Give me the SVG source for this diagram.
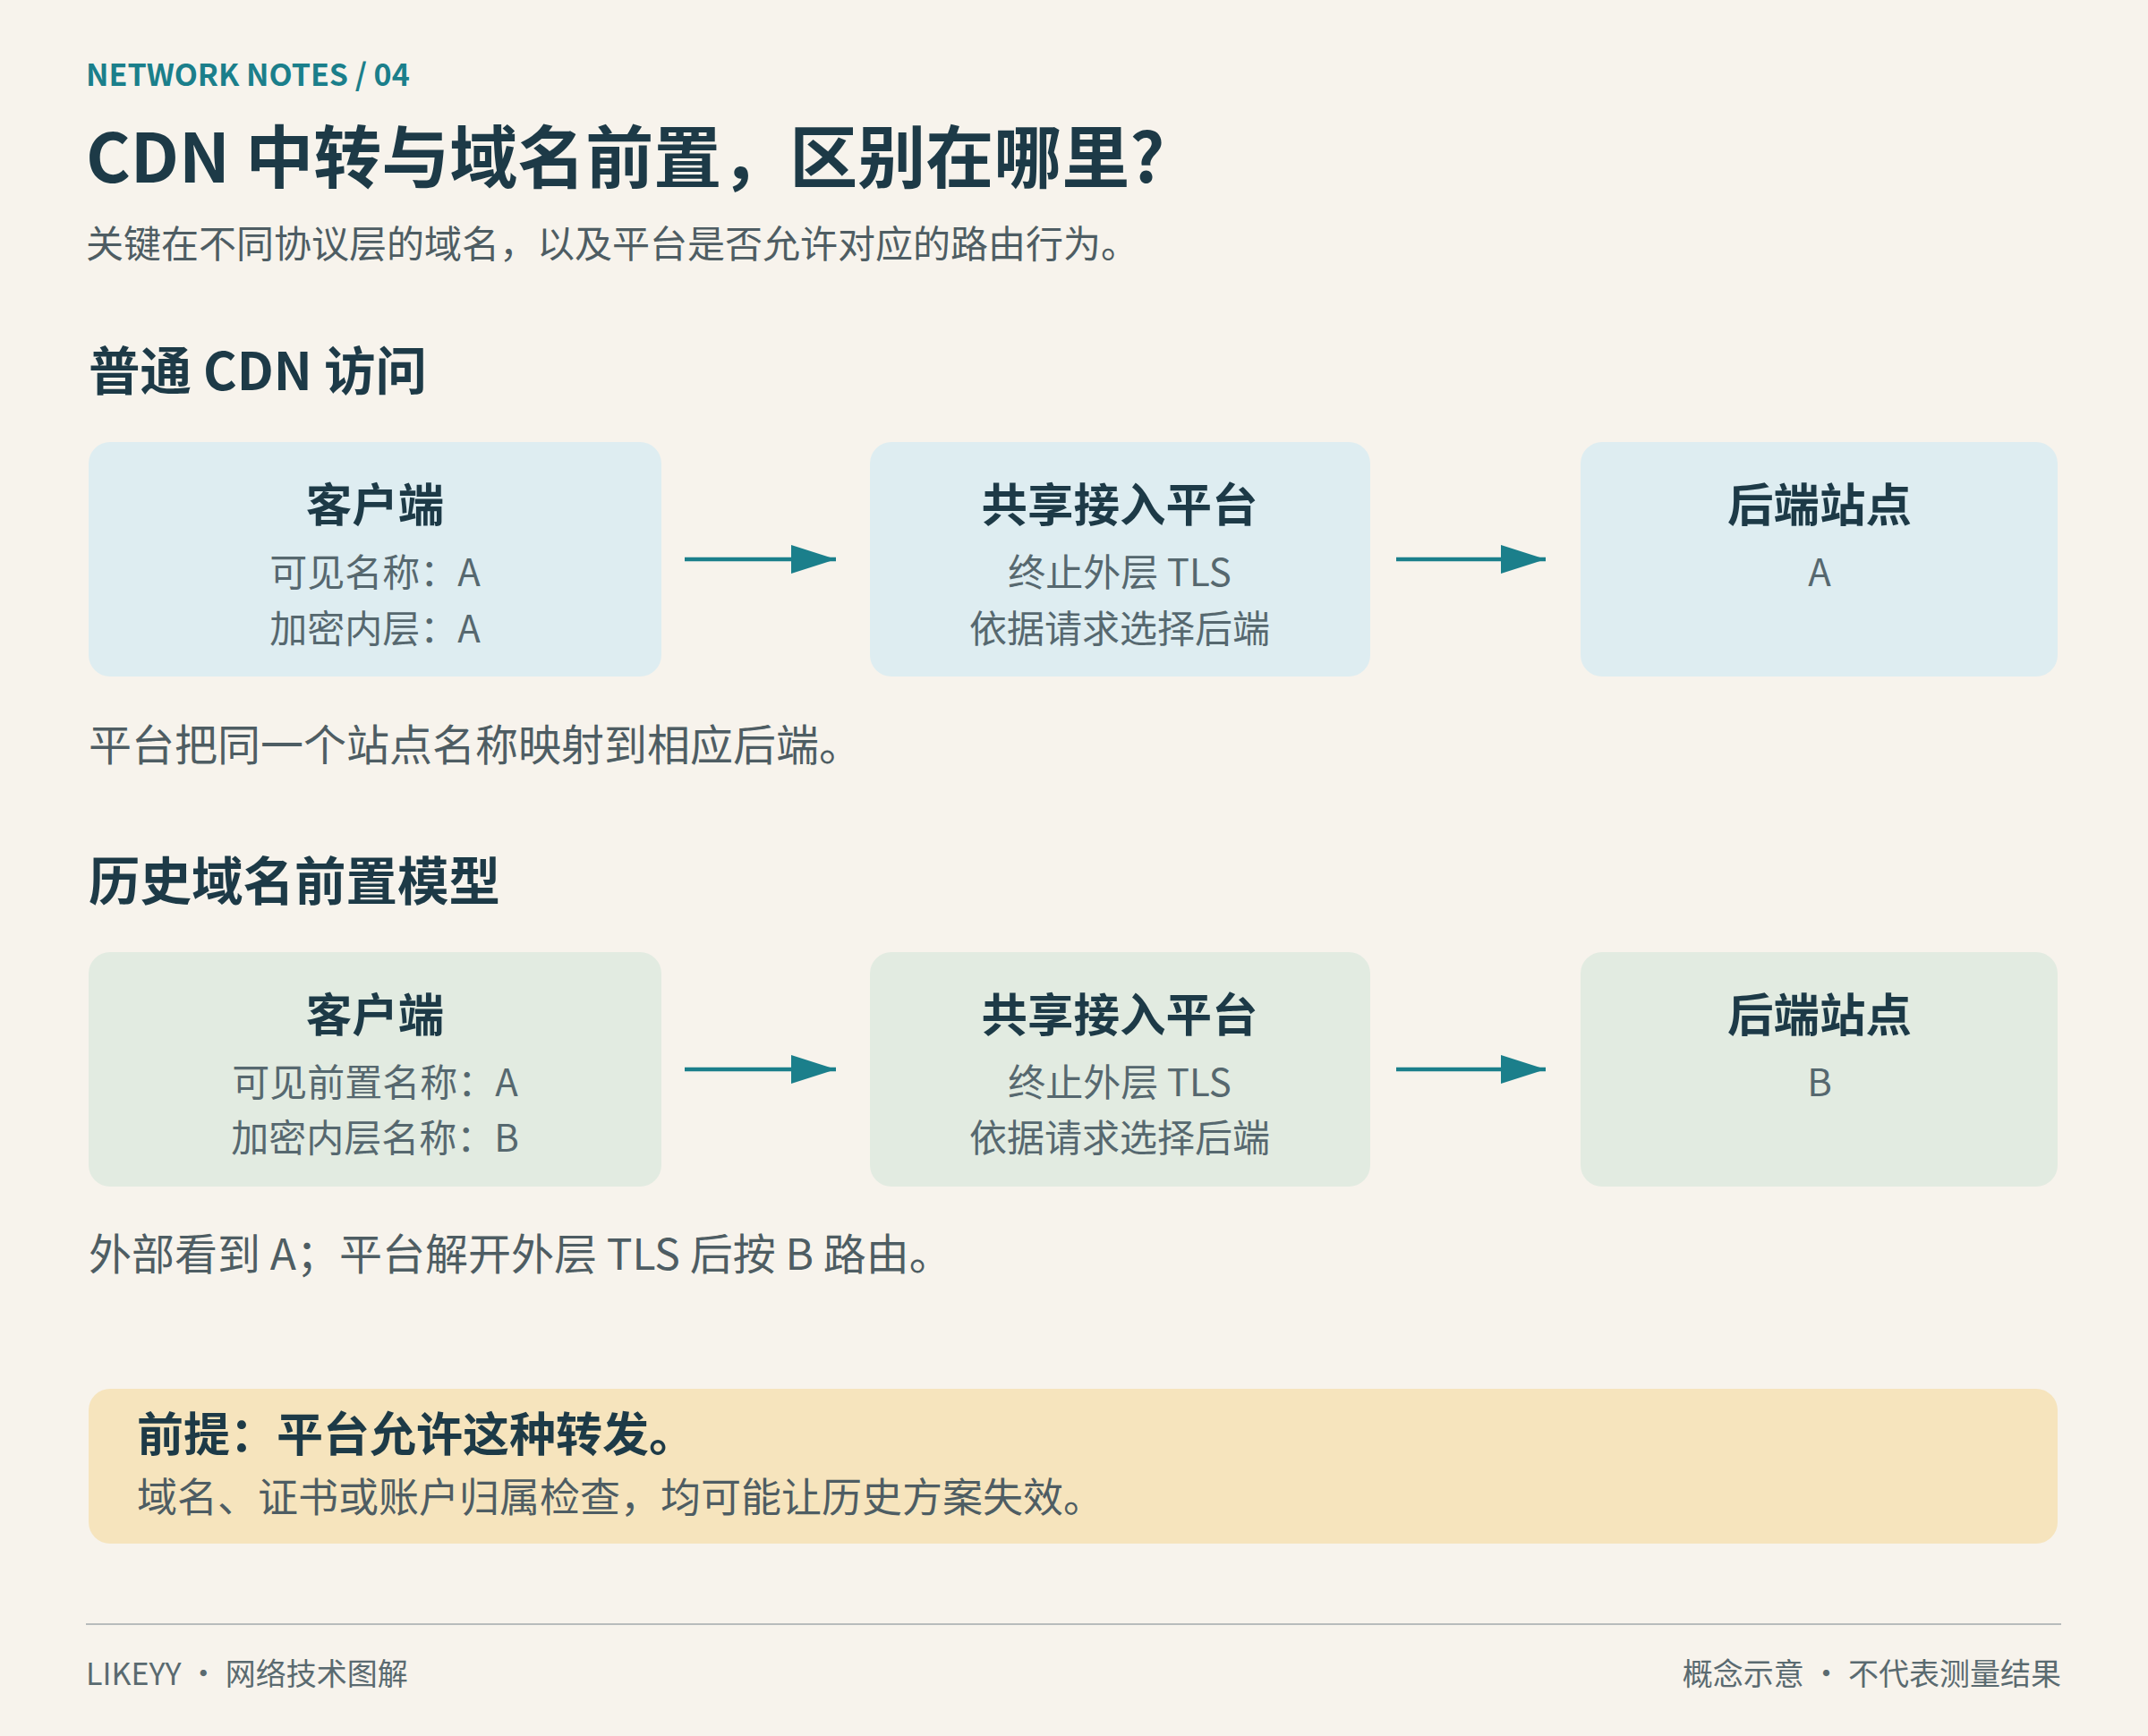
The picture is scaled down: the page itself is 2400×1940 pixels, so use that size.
<svg xmlns="http://www.w3.org/2000/svg" width="2400" height="1940" viewBox="0 0 2400 1940">
<style>
text{font-family:"Noto Sans CJK SC","Noto Sans",sans-serif}
.kick{font-size:34px;font-weight:700;fill:#1b7f8b}
.title{font-size:76px;font-weight:700;fill:#1d3a47}
.sub{font-size:42px;fill:#4e5d63}
.h2{font-size:57.5px;font-weight:700;fill:#1d3a47}
.bt{font-size:51.5px;font-weight:700;fill:#1d3a47;text-anchor:middle}
.bl{font-size:42px;fill:#56686f;text-anchor:middle}
.cap{font-size:48px;fill:#4e5d63}
.blue{fill:#deedf1}
.green{fill:#e2ebe1}
.conn{stroke:#1b7f8b;stroke-width:4.5;fill:none}
.foot{font-size:34px;fill:#5a6a70}
</style>
<defs><marker id="a" viewBox="0 0 50 32" refX="50" refY="16" markerWidth="50" markerHeight="32" markerUnits="userSpaceOnUse" orient="auto"><path d="M0,0L50,16L0,32z" fill="#1b7f8b"/></marker></defs>
<rect width="2400" height="1940" fill="#f7f3ec"/>
<text class="kick" x="96" y="96">NETWORK NOTES / 04</text>
<text class="title" x="96" y="204">CDN 中转与域名前置，区别在哪里?</text>
<text class="sub" x="96" y="288">关键在不同协议层的域名，以及平台是否允许对应的路由行为。</text>
<text class="h2" x="99" y="436">普通 CDN 访问</text>
<g id="n1"><rect class="blue" x="99" y="494" width="640" height="262" rx="24"/><text class="bt" x="419" y="583">客户端</text><text class="bl" x="419" y="655">可见名称：A</text><text class="bl" x="419" y="718">加密内层：A</text></g>
<g id="n2"><rect class="blue" x="972" y="494" width="559" height="262" rx="24"/><text class="bt" x="1251" y="583">共享接入平台</text><text class="bl" x="1251" y="655">终止外层 TLS</text><text class="bl" x="1251" y="718">依据请求选择后端</text></g>
<g id="n3"><rect class="blue" x="1766" y="494" width="533" height="262" rx="24"/><text class="bt" x="2033" y="583">后端站点</text><text class="bl" x="2033" y="655">A</text></g>
<text class="cap" x="99" y="850">平台把同一个站点名称映射到相应后端。</text>
<text class="h2" x="99" y="1006">历史域名前置模型</text>
<g id="n4"><rect class="green" x="99" y="1064" width="640" height="262" rx="24"/><text class="bt" x="419" y="1153">客户端</text><text class="bl" x="419" y="1225">可见前置名称：A</text><text class="bl" x="419" y="1287">加密内层名称：B</text></g>
<g id="n5"><rect class="green" x="972" y="1064" width="559" height="262" rx="24"/><text class="bt" x="1251" y="1153">共享接入平台</text><text class="bl" x="1251" y="1225">终止外层 TLS</text><text class="bl" x="1251" y="1287">依据请求选择后端</text></g>
<g id="n6"><rect class="green" x="1766" y="1064" width="533" height="262" rx="24"/><text class="bt" x="2033" y="1153">后端站点</text><text class="bl" x="2033" y="1225">B</text></g>
<text class="cap" x="99" y="1419">外部看到 A；平台解开外层 TLS 后按 B 路由。</text>
<g id="connectors">
<line class="conn" x1="765" y1="625" x2="934" y2="625" marker-end="url(#a)"/>
<line class="conn" x1="1560" y1="625" x2="1727" y2="625" marker-end="url(#a)"/>
<line class="conn" x1="765" y1="1195" x2="934" y2="1195" marker-end="url(#a)"/>
<line class="conn" x1="1560" y1="1195" x2="1727" y2="1195" marker-end="url(#a)"/>
</g>
<g id="note"><rect x="99" y="1552" width="2200" height="173" rx="24" fill="#f6e4bd"/>
<text x="153" y="1622" style="font-size:52px;font-weight:700;fill:#1d3a47">前提：平台允许这种转发。</text>
<text x="153" y="1690" style="font-size:45px;fill:#4e5d63">域名、证书或账户归属检查，均可能让历史方案失效。</text></g>
<line x1="96" y1="1815" x2="2303" y2="1815" stroke="#b8bcbc" stroke-width="2"/>
<text class="foot" x="96" y="1883">LIKEYY ・ 网络技术图解</text>
<text class="foot" x="2303" y="1883" text-anchor="end">概念示意 ・ 不代表测量结果</text>
</svg>
